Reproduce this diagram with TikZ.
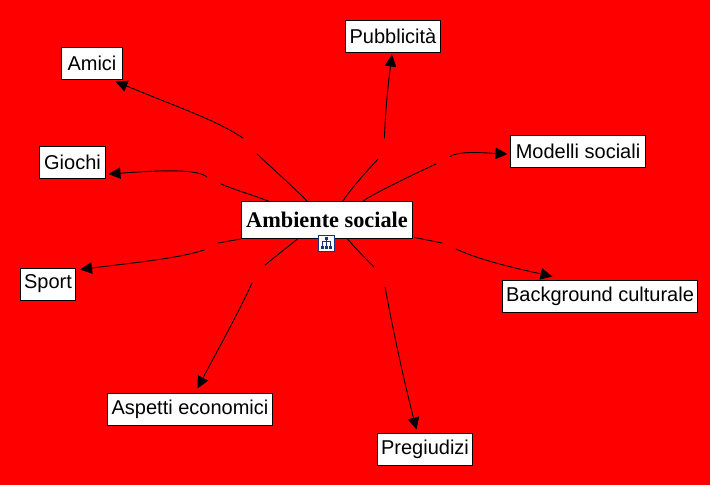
\documentclass[tikz,border=0pt]{standalone}
\usepackage{fontspec}
\setmainfont{Liberation Sans}
\newfontfamily\rootfont{Liberation Serif}
\usetikzlibrary{arrows.meta}
\definecolor{bgred}{RGB}{255,0,0}
\definecolor{iconblue}{RGB}{30,50,120}
\tikzset{
  leaf/.style={draw=black,fill=white,line width=1pt,inner sep=0pt,font=\fontsize{20}{24}\selectfont,text=black},
  rootbox/.style={draw=black,fill=white,line width=1pt,inner sep=0pt,font=\rootfont\bfseries\fontsize{22.3}{26}\selectfont},
  link/.style={draw=black,line width=0.9pt,line cap=round},
  arrowed/.style={link,-{Triangle[length=12pt,width=11.5pt]}},
  iconbox/.style={draw=iconblue,fill=white,line width=1pt,inner sep=0pt,minimum width=16pt,minimum height=16pt},
}
\begin{document}
\begin{tikzpicture}[x=1pt,y=-1pt]
\useasboundingbox (0,0) rectangle (710,485);
\fill[bgred] (0,0) rectangle (710,485);
% nodes
\node[rootbox,minimum width=171pt,minimum height=37.5pt] (root) at (327,220.2) {Ambiente sociale};
\node[iconbox] (icon) at (326.2,243) {};
\node[leaf,minimum width=61pt,minimum height=32pt] (amici) at (92,63.5) {Amici};
\node[leaf,minimum width=66pt,minimum height=32pt] (giochi) at (72.5,162.5) {Giochi};
\node[leaf,minimum width=55pt,minimum height=32pt] (sport) at (48,284) {Sport};
\node[leaf,minimum width=165pt,minimum height=32pt] (aspetti) at (190,409.5) {Aspetti economici};
\node[leaf,minimum width=95pt,minimum height=32pt] (preg) at (425,449) {Pregiudizi};
\node[leaf,minimum width=195pt,minimum height=32pt] (back) at (600,296.5) {Background culturale};
\node[leaf,minimum width=135pt,minimum height=32pt] (mod) at (578,151.5) {Modelli sociali};
\node[leaf,minimum width=95pt,minimum height=32pt] (pub) at (393,36.5) {Pubblicità};
% icon glyph
\draw[iconblue,line width=0.8pt] (326.2,238.5) -- (326.2,247) (322,247) -- (322,241.5) -- (330.4,241.5) -- (330.4,247);
\fill[iconblue] (324.7,237) rectangle (327.7,240);
\fill[iconblue] (320.6,245.8) rectangle (323.6,248.8);
\fill[iconblue] (324.7,245.8) rectangle (327.7,248.8);
\fill[iconblue] (328.9,245.8) rectangle (331.9,248.8);
% gap coordinates
\coordinate (a1) at (243,138); \coordinate (a2) at (257,154);
\coordinate (g1) at (207,177); \coordinate (g2) at (221,184);
\coordinate (s1) at (204,250); \coordinate (s2) at (218,243);
\coordinate (e1) at (252,283); \coordinate (e2) at (265,265);
\coordinate (r1) at (385,287); \coordinate (r2) at (374,267);
\coordinate (b1) at (456,249); \coordinate (b2) at (442,243);
\coordinate (m1) at (450,156.5); \coordinate (m2) at (436,164);
\coordinate (p1) at (384.5,138); \coordinate (p2) at (378,159);
% inner segments, from the central node
\draw[link] ([xshift=-20pt]root.north) .. controls (290,184) and (272,168) .. (a2);
\draw[link] ([xshift=-59pt]root.north) .. controls (250,194) and (235,190) .. (g2);
\draw[link] ([yshift=0.5pt]root.south west) -- (s2);
\draw[link] ([xshift=-30pt]root.south) .. controls (285,249) and (275,257) .. (e2);
\draw[link] ([xshift=21pt]root.south) .. controls (356,249) and (365,258) .. (r2);
\draw[link] ([xshift=1.5pt,yshift=2pt]root.south east) -- (b2);
\draw[link] ([xshift=36pt]root.north) .. controls (375,193) and (410,176) .. (m2);
\draw[link] ([xshift=16pt]root.north) .. controls (350,190) and (365,173) .. (p2);
% outer segments with arrowheads
\draw[arrowed] (a1) .. controls (215,120) and (190,112) .. ([xshift=-7.5pt,yshift=-1.5pt]amici.south east);
\draw[arrowed] (g1) .. controls (197,169) and (165,170) .. ([xshift=2.5pt,yshift=5pt]giochi.south east);
\draw[arrowed] (s1) .. controls (180,258) and (140,262) .. ([xshift=4pt,yshift=31pt]sport.south east);
\draw[arrowed] (e1) .. controls (240,310) and (215,355) .. ([xshift=90.5pt,yshift=4.5pt]aspetti.north west);
\draw[arrowed] (r1) .. controls (395,340) and (405,385) .. ([xshift=39.5pt,yshift=3pt]preg.north west);
\draw[arrowed] (b1) .. controls (480,260) and (510,267) .. ([xshift=50.5pt,yshift=3.5pt]back.north west);
\draw[arrowed] (m1) .. controls (458,152) and (470,152) .. ([xshift=-2.5pt,yshift=-2.5pt]mod.west);
\draw[arrowed] (p1) .. controls (385,115) and (388,85) .. ([xshift=-1pt,yshift=-1.5pt]pub.south);
\end{tikzpicture}
\end{document}
